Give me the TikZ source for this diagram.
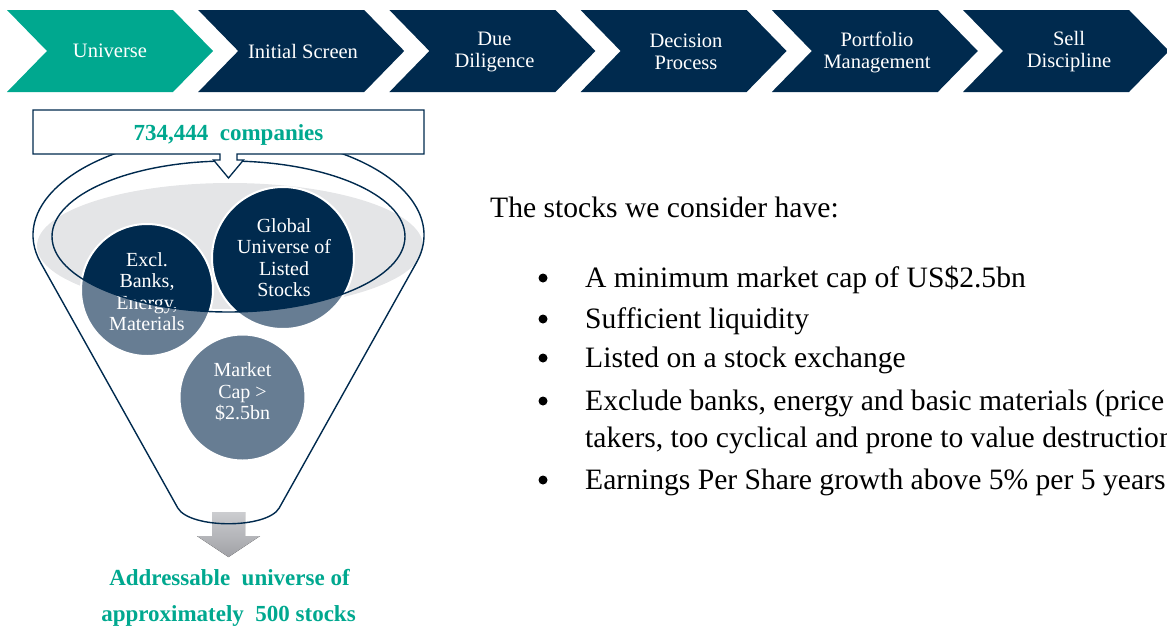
\documentclass[tikz,border=0pt]{standalone}
\usepackage{fontspec}
\setmainfont{Liberation Serif}
\definecolor{navy}{RGB}{0,42,78}
\definecolor{brandteal}{RGB}{0,168,143}
\definecolor{slate}{RGB}{103,125,147}
\definecolor{rimgray}{RGB}{228,229,231}
\definecolor{arrowlight}{RGB}{204,205,208}
\definecolor{arrowdark}{RGB}{160,161,166}

\tikzset{
  chevron/.style={fill=#1},
  steplabel/.style={text=white, align=center, inner sep=0pt,
    font=\fontsize{20.5}{22}\selectfont},
  bubble/.style={text=white, align=center, inner sep=0pt,
    font=\fontsize{20}{21.5}\selectfont},
  outline/.style={draw=navy, line width=1.4pt},
  tealbold/.style={text=brandteal, inner sep=0pt,
    font=\fontsize{23}{25}\selectfont\bfseries},
  bodytext/.style={anchor=base west, inner sep=0pt,
    font=\fontsize{29.6}{32}\selectfont},
  bulletdot/.style={circle, fill=black, minimum size=9pt, inner sep=0pt}
}

\begin{document}
\begin{tikzpicture}[x=1pt,y=-1pt]
\useasboundingbox (0,0) rectangle (1167,627);
\clip (0,0) rectangle (1167,627);

% process chevrons
\foreach \L/\c in {7/brandteal,198.2/navy,389.4/navy,580.6/navy,771.8/navy,963/navy}
  \fill[chevron=\c] (\L,10) -- ++(166,0) -- ++(40,41) -- ++(-40,41)
                    -- ++(-166,0) -- ++(40,-41) -- cycle;
\node[steplabel] (s1) at (110,51)   {Universe};
\node[steplabel] (s2) at (303,51)   {Initial Screen};
\node[steplabel] (s3) at (494.5,52) {Due\\Diligence};
\node[steplabel] (s4) at (686,52)   {Decision\\Process};
\node[steplabel] (s5) at (877,52)   {Portfolio\\Management};
\node[steplabel] (s6) at (1069,52)  {Sell\\Discipline};

% funnel rim
\fill[rimgray] (230,246) ellipse [x radius=193pt, y radius=63pt];

% filter bubbles
\fill[slate] (147,290) circle [radius=66pt];
\fill[slate] (283,258) circle [radius=71pt];
\fill[slate] (242.5,397.5) circle [radius=63pt];
\begin{scope}
  \clip (228.5,236.5) ellipse [x radius=176.5pt, y radius=75.5pt];
  \fill[navy] (147,290) circle [radius=66pt];
  \fill[navy] (283,258) circle [radius=71pt];
\end{scope}
\draw[white, line width=2pt] (147,290) circle [radius=66pt];
\draw[white, line width=2pt] (283,258) circle [radius=71pt];
\draw[white, line width=2pt] (242.5,397.5) circle [radius=63pt];

\node[bubble] (b1) at (147,291.5) {Excl.\\Banks,\\Energy,\\Materials};
\node[bubble] (b2) at (284,257.5) {Global\\Universe of\\Listed\\Stocks};
\node[bubble] (b3) at (242.5,392) {Market\\Cap >\\\$2.5bn};

% inner rim line
\draw[outline] (228.5,236.5) ellipse [x radius=176.5pt, y radius=75.5pt];

% output arrow
\fill[top color=arrowlight, bottom color=arrowdark]
  (212,512) -- (245,512) -- (245,536) -- (260,536) -- (228.5,557)
  -- (197,536) -- (212,536) -- cycle;

% funnel body: outer rim over the top, tapered sides, rounded bottom
\draw[outline] (40.6,262.6)
  arc [start angle=196, end angle=-16, x radius=195.5pt, y radius=100pt]
  -- (279.2,508) .. controls (267,529) and (190,529) .. (177.8,508) -- cycle;

% callout with the starting count
\filldraw[fill=white, draw=navy, line width=1.3pt]
  (33,110) -- (424,110) -- (424,154) -- (237,154) -- (237,160) -- (243.5,160)
  -- (228.5,178) -- (213.5,160) -- (220,160) -- (220,154) -- (33,154) -- cycle;
\node[tealbold] (count) at (228.5,135) {734,444\ \ companies};

\node[tealbold] (res1) at (229.5,578) {Addressable\ \ universe of};
\node[tealbold] (res2) at (228.5,616) {approximately\ \ 500 stocks};

% criteria list
\node[bodytext] (intro) at (490,217.5) {The stocks we consider have:};
\foreach \y/\t [count=\k] in {287/{A minimum market cap of US\$2.5bn},
                   328/{Sufficient liquidity},
                   367/{Listed on a stock exchange},
                   410/{Exclude banks, energy and basic materials (price},
                   489/{Earnings Per Share growth above 5\% per 5 years}} {
  \node[bulletdot] (dot\k) at (543,\y-9) {};
  \node[bodytext] (item\k) at (585,\y) {\t};
}
\node[bodytext] (item4b) at (585,447) {takers, too cyclical and prone to value destruction)};
\end{tikzpicture}
\end{document}
